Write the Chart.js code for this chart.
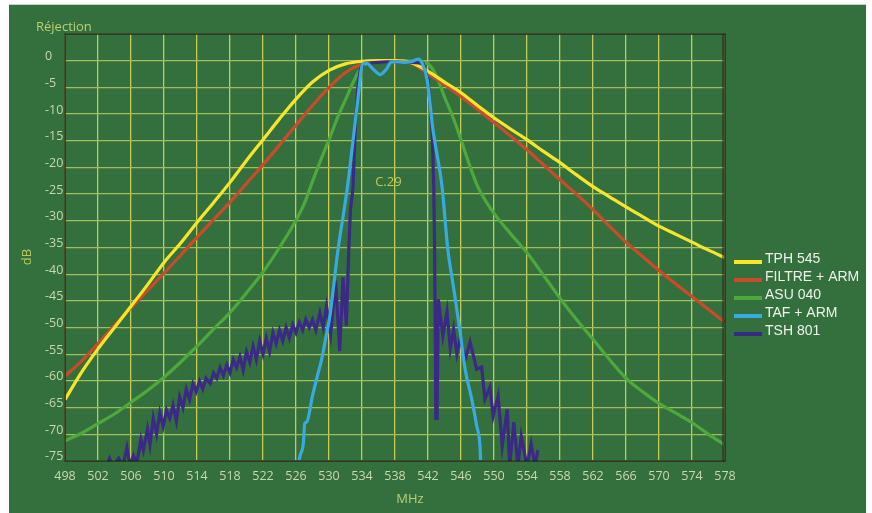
<!DOCTYPE html>
<html>
<head>
<meta charset="utf-8">
<title>Réjection C.29</title>
<script src="https://cdn.jsdelivr.net/npm/chart.js@4/dist/chart.umd.min.js"></script>
<style>
  html, body { margin: 0; padding: 0; background: #fff; }
  #wrap { width: 872px; height: 513px; }
</style>
</head>
<body>
<div id="wrap"><canvas id="c" width="872" height="513"></canvas></div>
<script>
// ---------- DATA ----------
const seriesNames = ["TPH 545", "FILTRE + ARM", "ASU 040", "TAF + ARM", "TSH 801"];
const seriesColors = ["#f6e52b", "#cb4a2b", "#4ea83d", "#3aa9e0", "#3b2a85"];
// lower number = drawn on top (the narrow filters sit over the wide ones)
const seriesOrder = [3, 4, 5, 1, 2];

const xTicksMhz = [498, 502, 506, 510, 514, 518, 522, 526, 530, 534, 538, 542, 546, 550, 554, 558, 562, 566, 570, 574, 578];
const yTicksDb = [0, -5, -10, -15, -20, -25, -30, -35, -40, -45, -50, -55, -60, -65, -70, -75];

const tphMhz = [498, 500, 502, 504, 506, 508, 510, 512, 514, 516, 518, 520, 522, 524, 526, 528, 530, 532, 534, 536, 538, 540, 542, 544, 546, 548, 550, 552, 554, 556, 558, 560, 562, 564, 566, 568, 570, 572, 574, 576, 578];
const tphDb = [-63.5, -58.4, -54, -50, -46, -42, -37.8, -34.2, -30.3, -26.6, -22.8, -18.7, -14.8, -10.9, -7.2, -4.0, -1.8, -0.6, -0.1, 0, 0, -0.4, -2.0, -4.0, -6.0, -8.4, -10.7, -12.8, -14.8, -17.0, -19.1, -21.4, -23.6, -25.5, -27.4, -29.2, -31.0, -32.5, -34.0, -35.5, -36.9];

const filtreMhz = [498, 500, 502, 504, 506, 508, 510, 512, 514, 516, 518, 520, 522, 524, 526, 528, 530, 532, 534, 536, 538, 540, 542, 544, 546, 548, 550, 552, 554, 556, 558, 560, 562, 564, 566, 568, 570, 572, 574, 576, 578];
const filtreDb = [-59.1, -56.3, -53, -49.6, -46.3, -43.1, -39.8, -36.5, -33.1, -29.8, -26.5, -23, -19.5, -15.8, -12.1, -8.4, -5, -2.2, -0.6, -0.1, 0, -0.5, -2.4, -4.5, -6.7, -9.1, -11.6, -14.1, -16.7, -19.5, -22.3, -25, -27.9, -31, -34, -36.7, -39.3, -41.8, -44.2, -46.6, -49];

const asuMhz = [498, 500, 502, 504, 506, 508, 510, 512, 514, 516, 518, 520, 522, 524, 526, 527, 528, 529, 530, 531, 532, 533, 534, 535, 536, 538, 540, 541, 542, 543, 544, 545, 546, 547, 548, 549, 550, 552, 554, 556, 558, 560, 562, 564, 566, 568, 570, 572, 574, 576, 578];
const asuDb = [-71.2, -69.8, -68, -66.2, -64, -61.8, -59.3, -56.5, -53.5, -50.3, -47.2, -43.5, -39.6, -35, -29.9, -26.8, -22.6, -18.6, -14.8, -10.8, -7.3, -3.8, -1.1, -0.3, -0.1, 0, -0.1, -0.2, -0.6, -2.8, -6.8, -10.5, -14.8, -19.4, -23.5, -26.3, -28.6, -32.4, -36, -40.2, -44.5, -48.5, -52.2, -56, -59.5, -62, -64.2, -66, -67.8, -70, -72];

const tafMhz = [526.2, 526.5, 526.9, 527.05, 527.3, 528, 528.6, 529.1, 529.6, 530.1, 531.1, 532.2, 533.4, 534.1, 534.6, 535.3, 536.2, 537, 537.5, 538, 539, 540, 540.8, 541.3, 541.9, 542.6, 543.7, 544.4, 545, 545.9, 546.5, 547.3, 547.9, 548.3, 548.4];
const tafDb = [-76, -74, -71.5, -68, -67.7, -62.8, -59, -56, -52, -47.9, -35.3, -24.1, -8.6, -0.6, -0.5, -1.5, -2.6, -1.5, -0.3, -0.2, -0.3, -0.2, 0.3, -0.5, -3.6, -12.9, -23.6, -35.3, -41.5, -50.9, -57.8, -63.4, -68.4, -72.2, -76];

const tshMhz = [503.0, 503.4, 503.8, 504.5, 505, 505.5, 505.9, 506.3, 506.7, 507.2, 507.5, 508, 508.3, 508.7, 509.1, 509.5, 509.9, 510.3, 510.7, 511.1, 511.5, 511.9, 512.3, 512.7, 513.1, 513.5, 513.9, 514.3, 514.7, 515.1, 515.6, 516, 516.4, 516.8, 517.2, 517.6, 518, 518.4, 518.8, 519.2, 519.6, 520, 520.4, 520.8, 521.2, 521.6, 522, 522.4, 522.8, 523.2, 523.6, 524, 524.4, 524.8, 525.2, 525.6, 526, 526.4, 526.8, 527.2, 527.6, 528, 528.4, 528.9, 529.3, 529.7, 530.2, 530.8, 531.3, 531.7, 532.1, 532.4, 532.6, 532.9, 533.2, 533.5, 533.8, 534.3, 535, 536, 537, 538, 539, 540, 541, 541.4, 542, 542.5, 542.7, 542.8, 542.95, 543.1, 543.25, 543.8, 544.3, 544.7, 545.1, 545.5, 545.9, 546.5, 547.1, 547.9, 548.5, 548.9, 549.5, 549.9, 550.5, 551, 551.6, 551.9, 552.4, 552.9, 553.3, 554, 554.5, 555, 555.3];
const tshDb = [-76, -74.5, -76, -74.5, -76, -72.5, -76, -74, -75.5, -71, -73, -69, -72, -67, -70, -66, -68.5, -65.5, -67, -64.5, -67.5, -63, -65, -61.5, -63.5, -60.5, -62, -60, -61.5, -59.5, -60.5, -58.5, -59.5, -57.5, -59, -57, -58.5, -56, -57.5, -55.5, -58, -54.5, -56.5, -53.5, -56, -52.5, -55, -52, -54.5, -51, -53, -50.5, -52.5, -50, -52, -49.5, -51, -49, -50.5, -48.5, -50, -48.5, -50.5, -47.2, -50, -46, -51.4, -41.2, -54.4, -40.6, -49.7, -35.3, -28, -24, -12, -5, -1.5, -0.5, -0.4, -0.3, -0.2, -0.2, -0.3, -0.3, -0.4, -0.5, -3.6, -12.9, -24, -35.3, -67, -67, -44.7, -51.6, -47, -54, -50.3, -55, -52, -56, -52.7, -57.8, -57.4, -63.4, -61.2, -66.6, -62.8, -72.2, -65.3, -76, -67.7, -76, -70.3, -76, -71.8, -76, -73, -76];

// ---------- UTIL ----------
const pts = (xs, ys) => xs.map((x, i) => ({ x, y: ys[i] }));
const labelColor = "#c9d8ad";

function lineSet(i, xs, ys, smooth) {
  return {
    label: seriesNames[i],
    data: pts(xs, ys),
    order: seriesOrder[i],
    borderColor: seriesColors[i],
    backgroundColor: seriesColors[i],
    borderWidth: 3.2,
    pointRadius: 0,
    tension: smooth ? 0.3 : 0,
    cubicInterpolationMode: smooth ? "monotone" : "default",
    clip: 0
  };
}

// ---------- PLUGINS ----------
const panel = {
  id: "panel",
  beforeDraw(chart) {
    const ctx = chart.ctx;
    ctx.save();
    ctx.fillStyle = "#ffffff";
    ctx.fillRect(0, 0, chart.width, chart.height);
    ctx.fillStyle = "#c9d3c9";
    ctx.fillRect(9, 4, 857, 1);
    ctx.fillStyle = "#34703d";
    ctx.fillRect(9, 5, 857, 508);
    ctx.restore();
  },
  afterDraw(chart) {
    const ctx = chart.ctx, a = chart.chartArea;
    ctx.save();
    // frame
    ctx.strokeStyle = "#1c261c";
    ctx.lineWidth = 1.5;
    ctx.strokeRect(a.left, a.top, a.right - a.left, a.bottom - a.top);
    ctx.lineWidth = 1;
    ctx.beginPath(); ctx.moveTo(a.right - 2, a.top); ctx.lineTo(a.right - 2, a.bottom); ctx.stroke();

    // texts
    ctx.font = "13px 'Open Sans'";
    ctx.textBaseline = "middle";
    ctx.fillStyle = "#b9cf78";
    ctx.textAlign = "left";
    ctx.fillText("Réjection", 36, 27);
    ctx.textAlign = "center";
    ctx.fillText("MHz", 410, 499);
    ctx.fillStyle = "#c3c85a";
    const x29 = chart.scales.x.getPixelForValue(537.2), y29 = chart.scales.y.getPixelForValue(-22.8);
    ctx.fillText("C.29", x29, y29);
    ctx.save();
    ctx.translate(27, 257);
    ctx.rotate(-Math.PI / 2);
    ctx.fillStyle = "#b7c95e";
    ctx.fillText("dB", 0, 0);
    ctx.restore();

    // legend (kept in dataset order, not draw order)
    ctx.font = "14px 'Liberation Sans'";
    ctx.textAlign = "left";
    chart.data.datasets.forEach((ds, i) => {
      const y = 262 + i * 18;
      ctx.strokeStyle = ds.borderColor;
      ctx.lineWidth = 4;
      ctx.beginPath(); ctx.moveTo(734, y); ctx.lineTo(762, y); ctx.stroke();
      ctx.fillStyle = "#eef2ea";
      ctx.fillText(ds.label, 765, y - 3);
    });
    ctx.restore();
  }
};

// ---------- CHART ----------
new Chart(document.getElementById("c"), {
  type: "line",
  data: {
    datasets: [
      lineSet(0, tphMhz, tphDb, true),
      lineSet(1, filtreMhz, filtreDb, true),
      lineSet(2, asuMhz, asuDb, true),
      lineSet(3, tafMhz, tafDb, true),
      lineSet(4, tshMhz, tshDb, false)
    ]
  },
  options: {
    responsive: false,
    animation: false,
    devicePixelRatio: 1,
    layout: { padding: { left: 45, right: 147, top: 34, bottom: 0 } },
    plugins: { legend: { display: false }, tooltip: { enabled: false } },
    scales: {
      x: {
        type: "linear",
        min: xTicksMhz[0],
        max: xTicksMhz[xTicksMhz.length - 1],
        afterFit: s => { s.height = 52; },
        afterBuildTicks: s => { s.ticks = xTicksMhz.map(v => ({ value: v })); },
        ticks: { autoSkip: false, maxRotation: 0, padding: 8, color: labelColor, font: { family: "'Open Sans'", size: 12.5 } },
        grid: { color: "#c3cc56", lineWidth: 1.3, drawTicks: false },
        border: { display: false }
      },
      y: {
        min: -75,
        max: 5,
        afterFit: s => { s.width = 20; },
        afterBuildTicks: s => { s.ticks = yTicksDb.concat([5]).map(v => ({ value: v })); },
        ticks: {
          autoSkip: false,
          crossAlign: "far",
          padding: 0,
          color: labelColor,
          font: { family: "'Open Sans'", size: 12.5, lineHeight: 0.66 },
          callback: v => (yTicksDb.includes(v) ? [String(v), ""] : "")
        },
        grid: { color: "#a2bd5e", lineWidth: 1.3, drawTicks: false },
        border: { display: false }
      }
    }
  },
  plugins: [panel]
});
</script>
</body>
</html>
